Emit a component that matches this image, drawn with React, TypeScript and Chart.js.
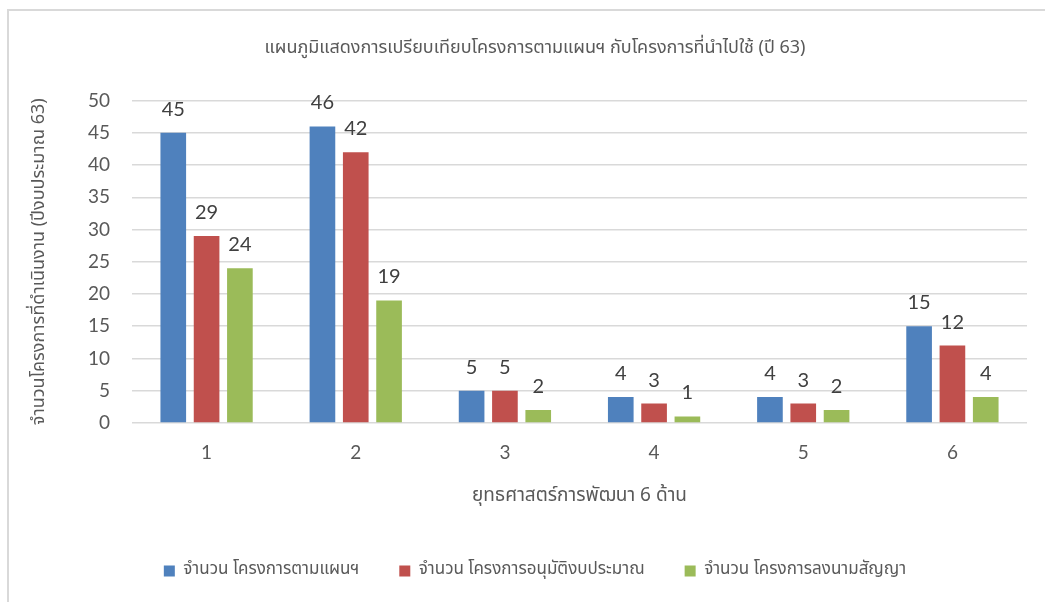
import React, { useEffect, useRef } from "react";
import { Chart, registerables } from "chart.js";

Chart.register(...registerables);

const categories = ["1", "2", "3", "4", "5", "6"];
const seriesNames = [
  "จำนวน โครงการตามแผนฯ",
  "จำนวน โครงการอนุมัติงบประมาณ",
  "จำนวน โครงการลงนามสัญญา",
];
const planned = [45, 46, 5, 4, 4, 15];
const approved = [29, 42, 5, 3, 3, 12];
const signed = [24, 19, 2, 1, 2, 4];
const colors = ["#4F81BD", "#C0504D", "#9BBB59"];

const titleText = "แผนภูมิแสดงการเปรียบเทียบโครงการตามแผนฯ กับโครงการที่นำไปใช้ (ปี 63)";
const xTitle = "ยุทธศาสตร์การพัฒนา 6 ด้าน";
const yTitle = "จำนวนโครงการที่ดำเนินงาน (ปีงบประมาณ 63)";

const THAI = "'Noto Sans Thai', 'Noto Sans', sans-serif";
const NUM = "Lato, 'Noto Sans', sans-serif";
const GREY = "#595959";

const valueLabels = {
  id: "valueLabels",
  afterDatasetsDraw(chart: any) {
    const ctx = chart.ctx;
    ctx.save();
    ctx.font = `20px ${NUM}`;
    ctx.fillStyle = "#404040";
    ctx.textAlign = "center";
    ctx.textBaseline = "alphabetic";
    chart.data.datasets.forEach((ds: any, di: number) => {
      const meta = chart.getDatasetMeta(di);
      meta.data.forEach((bar: any, i: number) => {
        ctx.fillText(String(ds.data[i]), bar.x, bar.y - 17);
      });
    });
    ctx.restore();
  },
};

export default function App() {
  const ref = useRef<HTMLCanvasElement | null>(null);
  useEffect(() => {
    if (!ref.current) return;
    const chart = new Chart(ref.current, {
      type: "bar",
      data: {
        labels: categories,
        datasets: [planned, approved, signed].map((d, i) => ({
          label: seriesNames[i],
          data: d,
          backgroundColor: colors[i],
          borderWidth: 0,
          categoryPercentage: 0.67,
          barPercentage: 0.77,
        })),
      },
      options: {
        animation: false,
        responsive: false,
        devicePixelRatio: 1,
        layout: { padding: { left: 34, right: 18, top: 0, bottom: 12.5 } },
        plugins: {
          title: {
            display: true,
            text: titleText,
            color: GREY,
            font: { family: THAI, size: 18, weight: "normal" },
            padding: { top: 28, bottom: 40 },
          },
          legend: {
            position: "bottom",
            labels: {
              color: GREY,
              font: { family: THAI, size: 17 },
              boxWidth: 11,
              boxHeight: 11,
              padding: 40,
            },
          },
          tooltip: { enabled: false },
        },
        scales: {
          x: {
            grid: { display: false, drawTicks: false },
            border: { display: false },
            ticks: { color: GREY, font: { family: NUM, size: 19 }, padding: 19 },
            title: {
              display: true,
              text: xTitle,
              color: GREY,
              font: { family: THAI, size: 19 },
              padding: { top: 2, bottom: 14 },
            },
          },
          y: {
            min: 0,
            max: 50,
            grid: { color: "#d9d9d9", lineWidth: 1.5, drawTicks: false },
            border: { display: false },
            ticks: { stepSize: 5, color: GREY, font: { family: NUM, size: 19 }, padding: 22 },
            title: {
              display: true,
              text: yTitle,
              color: GREY,
              font: { family: THAI, size: 18 },
              padding: { top: -13, bottom: 0 },
            },
            afterFit(scale: any) {
              scale.width = 89;
            },
          },
        },
      },
      plugins: [valueLabels],
    });
    return () => chart.destroy();
  }, []);

  return (
    <div
      style={{
        position: "fixed",
        left: 7,
        top: 9,
        width: 1038,
        height: 593,
        borderTop: "2px solid #d9d9d9",
        borderLeft: "2px solid #d9d9d9",
        boxSizing: "border-box",
        background: "#fff",
      }}
    >
      <canvas ref={ref} width={1036} height={591} style={{ display: "block", width: 1036, height: 591 }} />
    </div>
  );
}
